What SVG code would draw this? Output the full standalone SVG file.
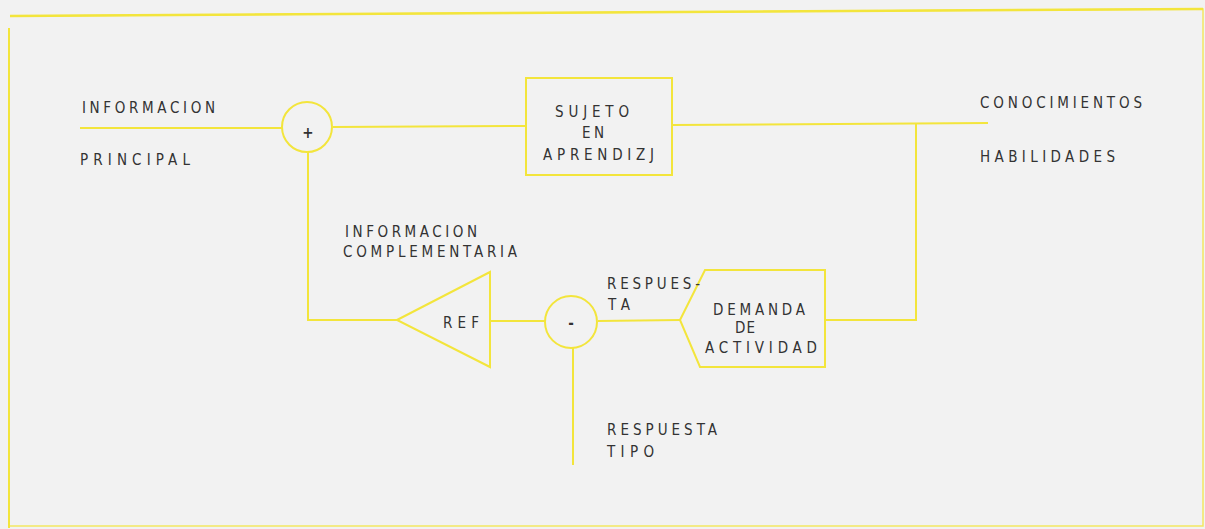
<svg xmlns="http://www.w3.org/2000/svg" width="1205" height="529" viewBox="0 0 1205 529">
<style>
.ln{fill:none;stroke:#f3e53c;stroke-width:2}
.t{font-family:"DejaVu Sans Condensed","DejaVu Sans",sans-serif;font-size:15px;fill:#333333}
</style>
<rect width="1205" height="529" fill="#f2f2f2"/>
<g id="frame" class="ln">
<path d="M9,528 L9,28"/>
<path d="M10,16 L1203,9 L1203,526 L9,526" stroke-width="1.5" opacity="0.8"/>
<path d="M10,16 L1203,9" stroke-width="2.5"/>
</g>
<g id="connectors" class="ln">
<path d="M80,128 L282,128"/>
<path d="M333,127 L526,126"/>
<path d="M672,125 L988,123"/>
<path d="M916,123 L916,320 L825,320"/>
<path d="M680,320 L598,321"/>
<path d="M545,321 L490,321"/>
<path d="M397,320 L308,320 L308,152"/>
<path d="M573,348 L573,465"/>
</g>
<g id="sum">
<circle class="ln" cx="307" cy="127" r="25"/>
<text class="t" x="308" y="138" text-anchor="middle" font-weight="bold">+</text>
</g>
<g id="sujeto">
<rect class="ln" x="526" y="78" width="146" height="97"/>
<text class="t" x="555" y="117" textLength="74" lengthAdjust="spacing">SUJETO</text>
<text class="t" x="582" y="138" textLength="22" lengthAdjust="spacing">EN</text>
<text class="t" x="543" y="160" textLength="111" lengthAdjust="spacing">APRENDIZJ</text>
</g>
<g id="ref">
<path class="ln" d="M397,320 L490,272 L490,367 Z"/>
<text class="t" x="443" y="328" textLength="36" lengthAdjust="spacing">REF</text>
</g>
<g id="diff">
<circle class="ln" cx="571" cy="322" r="26"/>
<text class="t" x="571" y="328" text-anchor="middle" font-weight="bold">-</text>
</g>
<g id="demanda">
<path class="ln" d="M680,320 L705,270 L825,270 L825,367 L700,367 Z"/>
<text class="t" x="713" y="315" textLength="92" lengthAdjust="spacing">DEMANDA</text>
<text class="t" x="735" y="333" textLength="20" lengthAdjust="spacing">DE</text>
<text class="t" x="705" y="353" textLength="112" lengthAdjust="spacing">ACTIVIDAD</text>
</g>
<g id="labels">
<text class="t" x="82" y="113" textLength="133" lengthAdjust="spacing">INFORMACION</text>
<text class="t" x="80" y="165" textLength="110" lengthAdjust="spacing">PRINCIPAL</text>
<text class="t" x="980" y="108" textLength="162" lengthAdjust="spacing">CONOCIMIENTOS</text>
<text class="t" x="980" y="162" textLength="135" lengthAdjust="spacing">HABILIDADES</text>
<text class="t" x="345" y="237" textLength="132" lengthAdjust="spacing">INFORMACION</text>
<text class="t" x="343" y="257" textLength="174" lengthAdjust="spacing">COMPLEMENTARIA</text>
<text class="t" x="607" y="289" textLength="93" lengthAdjust="spacing">RESPUES-</text>
<text class="t" x="608" y="310" textLength="22" lengthAdjust="spacing">TA</text>
<text class="t" x="607" y="435" textLength="110" lengthAdjust="spacing">RESPUESTA</text>
<text class="t" x="607" y="457" textLength="47" lengthAdjust="spacing">TIPO</text>
</g>
</svg>
